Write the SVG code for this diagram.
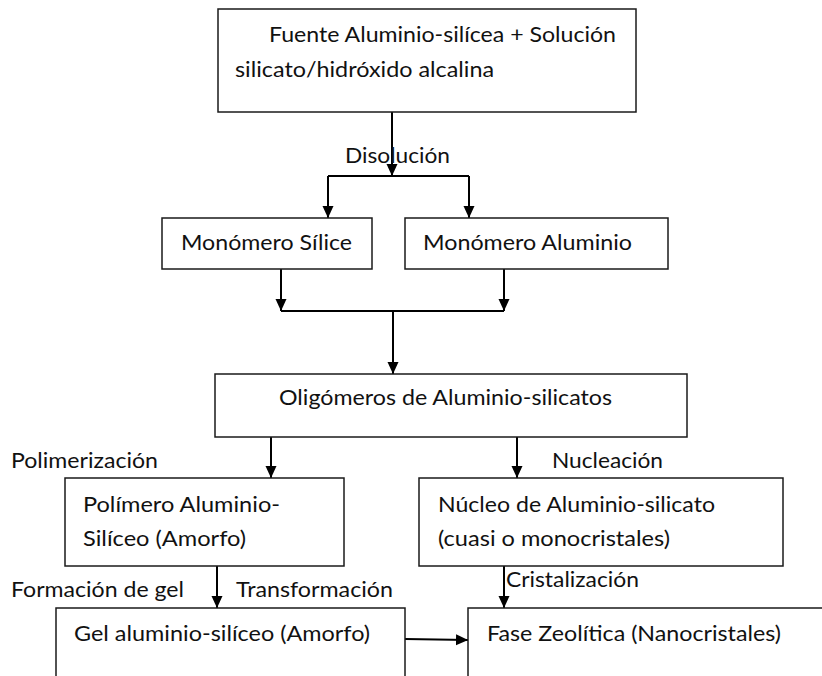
<svg xmlns="http://www.w3.org/2000/svg" width="822" height="676" viewBox="0 0 822 676">
<defs>
<marker id="ah" markerWidth="11" markerHeight="12" refX="12" refY="5.5" orient="auto" markerUnits="userSpaceOnUse">
<path d="M0,0 L12,5.5 L0,11 Z" fill="#000"/>
</marker>
<style>
.box{fill:#fff;stroke:#1a1a1a;stroke-width:1.5}
.t{font-family:Lato,"Liberation Sans",Arial,sans-serif;font-size:21px;fill:#111}
.c{fill:none;stroke:#000;stroke-width:2}
.a{fill:none;stroke:#000;stroke-width:2;marker-end:url(#ah)}
</style>
</defs>
<rect width="822" height="676" fill="#fff"/>
<g id="connectors">
<line class="a" x1="392" y1="112" x2="392" y2="176"/>
<line class="c" x1="328" y1="176" x2="469" y2="176"/>
<line class="a" x1="328" y1="176" x2="328" y2="218"/>
<line class="a" x1="469" y1="176" x2="469" y2="218"/>
<line class="a" x1="281" y1="269" x2="281" y2="311"/>
<line class="a" x1="504" y1="269" x2="504" y2="311"/>
<line class="c" x1="281" y1="311" x2="504" y2="311"/>
<line class="a" x1="393" y1="311" x2="393" y2="374"/>
<line class="a" x1="271" y1="437" x2="271" y2="478"/>
<line class="a" x1="517" y1="437" x2="517" y2="478"/>
<line class="a" x1="217" y1="566" x2="217" y2="608"/>
<line class="a" x1="504" y1="566" x2="504" y2="608"/>
<line class="a" x1="405" y1="639" x2="468" y2="640"/>
</g>
<g id="n_fuente">
<rect class="box" x="218" y="9" width="418" height="103"/>
<text class="t" x="269" y="42" textLength="347" lengthAdjust="spacingAndGlyphs">Fuente Aluminio-silícea + Solución</text>
<text class="t" x="235" y="77" textLength="259" lengthAdjust="spacingAndGlyphs">silicato/hidróxido alcalina</text>
</g>
<g id="l_disolucion"><text class="t" x="345" y="163" textLength="105" lengthAdjust="spacingAndGlyphs">Disolución</text></g>
<g id="n_silice">
<rect class="box" x="162" y="218" width="210" height="51"/>
<text class="t" x="181" y="250" textLength="171" lengthAdjust="spacingAndGlyphs">Monómero Sílice</text>
</g>
<g id="n_aluminio">
<rect class="box" x="405" y="218" width="263" height="51"/>
<text class="t" x="423" y="250" textLength="209" lengthAdjust="spacingAndGlyphs">Monómero Aluminio</text>
</g>
<g id="n_oligomeros">
<rect class="box" x="215" y="374" width="472" height="63"/>
<text class="t" x="279" y="405" textLength="333" lengthAdjust="spacingAndGlyphs">Oligómeros de Aluminio-silicatos</text>
</g>
<g id="l_polimerizacion"><text class="t" x="11" y="468" textLength="147" lengthAdjust="spacingAndGlyphs">Polimerización</text></g>
<g id="l_nucleacion"><text class="t" x="552" y="468" textLength="111" lengthAdjust="spacingAndGlyphs">Nucleación</text></g>
<g id="n_polimero">
<rect class="box" x="65" y="478" width="279" height="88"/>
<text class="t" x="83" y="512" textLength="197" lengthAdjust="spacingAndGlyphs">Polímero Aluminio-</text>
<text class="t" x="83" y="546" textLength="163" lengthAdjust="spacingAndGlyphs">Silíceo (Amorfo)</text>
</g>
<g id="n_nucleo">
<rect class="box" x="419" y="478" width="364" height="88"/>
<text class="t" x="438" y="512" textLength="277" lengthAdjust="spacingAndGlyphs">Núcleo de Aluminio-silicato</text>
<text class="t" x="438" y="546" textLength="232" lengthAdjust="spacingAndGlyphs">(cuasi o monocristales)</text>
</g>
<g id="l_formacion"><text class="t" x="11" y="597" textLength="173" lengthAdjust="spacingAndGlyphs">Formación de gel</text></g>
<g id="l_transformacion"><text class="t" x="236" y="597" textLength="157" lengthAdjust="spacingAndGlyphs">Transformación</text></g>
<g id="l_cristalizacion"><text class="t" x="506" y="587" textLength="133" lengthAdjust="spacingAndGlyphs">Cristalización</text></g>
<g id="n_gel">
<rect class="box" x="56" y="608" width="349" height="80"/>
<text class="t" x="74" y="641" textLength="296" lengthAdjust="spacingAndGlyphs">Gel aluminio-silíceo (Amorfo)</text>
</g>
<g id="n_fase">
<rect class="box" x="468" y="608" width="364" height="80"/>
<text class="t" x="487" y="641" textLength="294" lengthAdjust="spacingAndGlyphs">Fase Zeolítica (Nanocristales)</text>
</g>
</svg>
